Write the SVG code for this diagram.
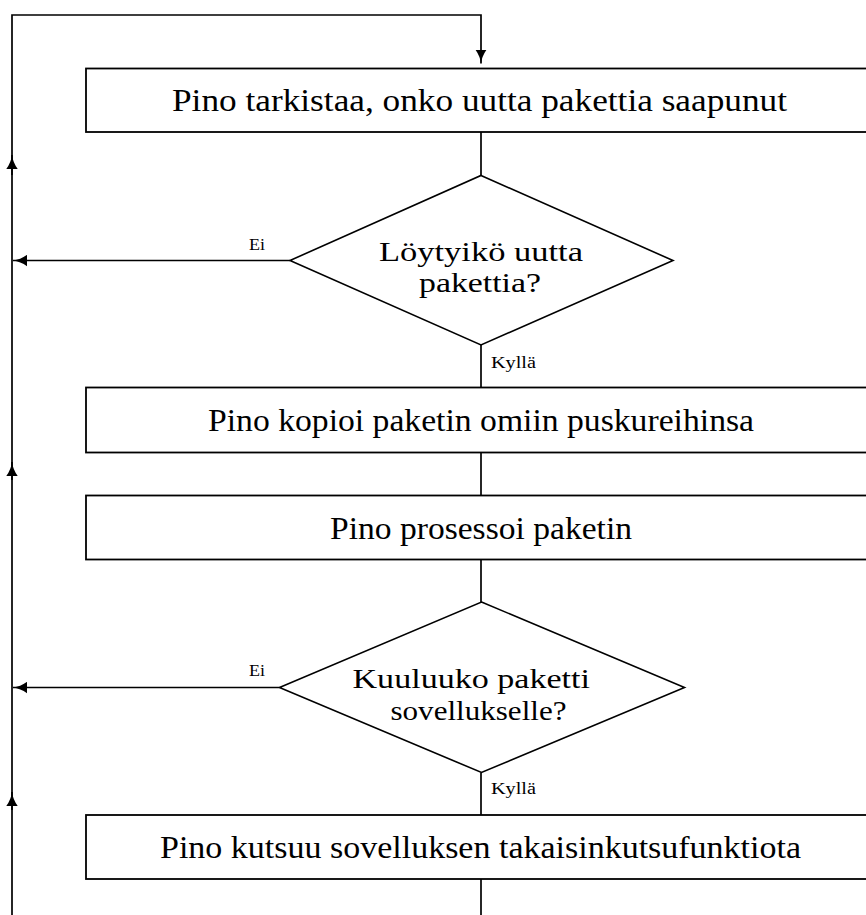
<svg xmlns="http://www.w3.org/2000/svg" width="866" height="915" viewBox="0 0 866 915">
<style>
.box{fill:#fff;stroke:#000;stroke-width:1.8}
.dia{fill:#fff;stroke:#000;stroke-width:1.6}
.ln{fill:none;stroke:#000;stroke-width:1.7}
.t{font-family:"Liberation Serif","Times New Roman",serif;font-size:31px;fill:#000}
.d{font-family:"Liberation Serif","Times New Roman",serif;font-size:28px;fill:#000}
.s{font-family:"Liberation Serif","Times New Roman",serif;font-size:17px;fill:#000}
</style>
<defs>
<marker id="ah" markerUnits="userSpaceOnUse" viewBox="0 0 14 12" refX="14" refY="6" markerWidth="14" markerHeight="12" orient="auto">
<path d="M0,0.3 Q6.5,5 14,6 Q6.5,7 0,11.7 Z" fill="#000"/>
</marker>
</defs>
<g id="connectors">
<path class="ln" d="M12,915 V15 H481 V63.5" marker-end="url(#ah)"/>
<path class="ln" d="M12,175 V155" marker-end="url(#ah)"/>
<path class="ln" d="M12,480 V462" marker-end="url(#ah)"/>
<path class="ln" d="M12,810 V792" marker-end="url(#ah)"/>
<path class="ln" d="M290,260.5 H13" marker-end="url(#ah)"/>
<path class="ln" d="M279.5,687.5 H13" marker-end="url(#ah)"/>
<path class="ln" d="M481,132 V175.5"/>
<path class="ln" d="M481,345 V387.5"/>
<path class="ln" d="M481,452.5 V495.5"/>
<path class="ln" d="M481,559.5 V602"/>
<path class="ln" d="M481,772.5 V815"/>
<path class="ln" d="M481,879 V915"/>
<text class="s" x="249" y="250" textLength="16" lengthAdjust="spacingAndGlyphs">Ei</text>
<text class="s" x="249" y="676" textLength="16" lengthAdjust="spacingAndGlyphs">Ei</text>
<text class="s" x="491" y="367.5" textLength="45" lengthAdjust="spacingAndGlyphs">Kyllä</text>
<text class="s" x="491" y="793.5" textLength="45" lengthAdjust="spacingAndGlyphs">Kyllä</text>
</g>
<g id="n1">
<rect class="box" x="86" y="68.5" width="790" height="63.5"/>
<text class="t" x="172" y="111" textLength="615" lengthAdjust="spacingAndGlyphs">Pino tarkistaa, onko uutta pakettia saapunut</text>
</g>
<g id="n2">
<polygon class="dia" points="481,175.5 673,260.5 481,345 290,260.5"/>
<text class="d" x="379" y="260.5" textLength="204" lengthAdjust="spacingAndGlyphs">Löytyikö uutta</text>
<text class="d" x="419" y="292" textLength="122" lengthAdjust="spacingAndGlyphs">pakettia?</text>
</g>
<g id="n3">
<rect class="box" x="86" y="387.5" width="790" height="65"/>
<text class="t" x="208" y="431" textLength="546" lengthAdjust="spacingAndGlyphs">Pino kopioi paketin omiin puskureihinsa</text>
</g>
<g id="n4">
<rect class="box" x="86" y="495.5" width="790" height="64"/>
<text class="t" x="330" y="538.5" textLength="302" lengthAdjust="spacingAndGlyphs">Pino prosessoi paketin</text>
</g>
<g id="n5">
<polygon class="dia" points="481.5,602 684.5,687.5 481.5,772.5 279.5,687.5"/>
<text class="d" x="352.5" y="687.5" textLength="237.5" lengthAdjust="spacingAndGlyphs">Kuuluuko paketti</text>
<text class="d" x="390.5" y="720" textLength="176" lengthAdjust="spacingAndGlyphs">sovellukselle?</text>
</g>
<g id="n6">
<rect class="box" x="86" y="815" width="790" height="64"/>
<text class="t" x="160" y="858" textLength="641" lengthAdjust="spacingAndGlyphs">Pino kutsuu sovelluksen takaisinkutsufunktiota</text>
</g>
</svg>
